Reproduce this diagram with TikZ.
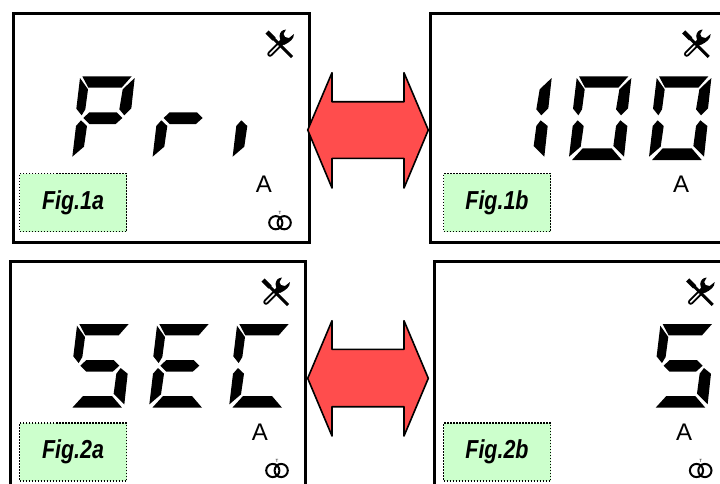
\documentclass[tikz,border=0pt]{standalone}
\usepackage{fontspec}
\setmainfont{Liberation Sans}
\newfontfamily\figfont[FakeStretch=.825]{Liberation Sans}
\tikzset{
  panel/.style={draw=black,line width=3pt,fill=white},
  lcdseg/.style={fill=black},
  figlabel/.style={draw=black,dash pattern=on 1.5pt off 1.5pt,line width=1.5pt,fill=figgreen,minimum width=107pt,minimum height=58pt,inner sep=0pt,font=\figfont\fontsize{26}{26}\selectfont\bfseries\itshape,text=black},
  dbl/.style={draw=black,line width=1.6pt,fill=arrowred,line join=round},
  unitA/.style={inner sep=0pt,anchor=base,font=\fontsize{24}{24}\selectfont,text=black},
  ttick/.style={inner sep=0pt,font=\fontsize{4.5}{4.5}\selectfont}
}
\definecolor{figgreen}{HTML}{CCFFCC}
\definecolor{arrowred}{HTML}{FF4D4D}
\newcommand\sT{\fill[lcdseg] (247,229)--(395,229)--(365,263)--(265,263)--cycle;}
\newcommand\sUL{\fill[lcdseg] (240,234)--(264,268)--(256,328)--(245,346)--(229,326)--cycle;}
\newcommand\sUR{\fill[lcdseg] (404,234)--(394,325)--(373,346)--(358,328)--(368,268)--cycle;}
\newcommand\sM{\fill[lcdseg] (250,354)--(268,337)--(350,337)--(367,354)--(347,372)--(268,372)--cycle;}
\newcommand\sLL{\fill[lcdseg] (243,361)--(261,378)--(252,440)--(217,470)--(228,378)--cycle;}
\newcommand\sLR{\fill[lcdseg] (371,361)--(392,378)--(382,470)--(350,438)--(358,378)--cycle;}
\newcommand\sB{\fill[lcdseg] (226,480)--(375,480)--(345,445)--(258,445)--cycle;}
\newcommand\lcdat[3]{\begin{scope}[shift={(#1,#2)},x=.33333pt,y=-.33333pt] #3 \end{scope}}
\newcommand\toolicon[2]{\begin{scope}[shift={(#1,#2)}]
  \draw[line width=4.5pt] (-13,-12)--(-6,-5);
  \draw[line width=3pt] (-7,-6)--(12,13);
  \draw[line width=5.5pt,line cap=round] (-10,10)--(3,-3);
  \draw[white,line width=1.6pt,line cap=round] (-10,10)--(-2,2);
  \fill (1,-1)--(-.5,-8) .. controls (0,-12) and (2,-14) .. (6,-14.5)--(3.5,-10)--(5,-7)--(9,-6)--(14,-10) .. controls (14,-5) and (10,-2) .. (4,1)--cycle;
\end{scope}}
\newcommand\ringicon[3]{\begin{scope}[shift={(#1,#2)}]
  \draw[line width=2pt] (-4.2,0) circle (6.6);
  \draw[line width=2pt] (4.2,0) circle (6.6);
  \node[ttick] (#3) at (0,-10) {T};
\end{scope}}
\begin{document}
\begin{tikzpicture}[x=1pt,y=-1pt]
\useasboundingbox (0,0) rectangle (720,483);
\clip (0,0) rectangle (720,483);
\fill[white] (0,0) rectangle (720,483);
% panels
\draw[panel] (13.5,13.5) rectangle (309.3,242.5);
\draw[panel] (430.8,13.5) rectangle (740,242.5);
\draw[panel] (10,261.7) rectangle (305.3,500);
\draw[panel] (434.5,261.7) rectangle (740,500);
% digits
\lcdat{0}{0}{\sT\sUL\sUR\sM\sLL}
\lcdat{80.3}{0}{\sM\sLL}
\lcdat{160.3}{0}{\sLL}
\lcdat{417}{0}{\sUR\sLR}
\lcdat{496.7}{0}{\sT\sUL\sUR\sLL\sLR\sB}
\lcdat{576.7}{0}{\sT\sUL\sUR\sLL\sLR\sB}
\lcdat{-3}{247.7}{\sT\sUL\sM\sLR\sB}
\lcdat{77}{247.7}{\sT\sUL\sM\sLL\sB}
\lcdat{157}{247.7}{\sT\sUL\sLL\sB}
\lcdat{580.3}{247.7}{\sT\sUL\sM\sLR\sB}
% labels
\node[figlabel] (f1a) at (73,202.5) {Fig.1a};
\node[figlabel] (f1b) at (497,202.5) {Fig.1b};
\node[figlabel] (f2a) at (73,452) {Fig.2a};
\node[figlabel] (f2b) at (497,452) {Fig.2b};
% units
\node[unitA] (a1a) at (264,192.3) {A};
\node[unitA] (a1b) at (681,192.3) {A};
\node[unitA] (a2a) at (260,440.7) {A};
\node[unitA] (a2b) at (684,440.7) {A};
% icons
\toolicon{280}{44}
\toolicon{696.7}{44}
\toolicon{276}{292}
\toolicon{700.7}{292}
\ringicon{280}{222.7}{t1a}
\ringicon{277}{470.5}{t2a}
\ringicon{700.7}{470.5}{t2b}
% arrows
\draw[dbl] (307.7,130)--(332,72.7)--(332,101.7)--(404,101.7)--(404,72.7)--(428.3,130)--(404,188)--(404,158.3)--(332,158.3)--(332,188)--cycle;
\draw[dbl] (307.7,378.3)--(332,320.7)--(332,349.3)--(404,349.3)--(404,320.7)--(428.3,378.3)--(404,436)--(404,406.7)--(332,406.7)--(332,436)--cycle;
\end{tikzpicture}
\end{document}
